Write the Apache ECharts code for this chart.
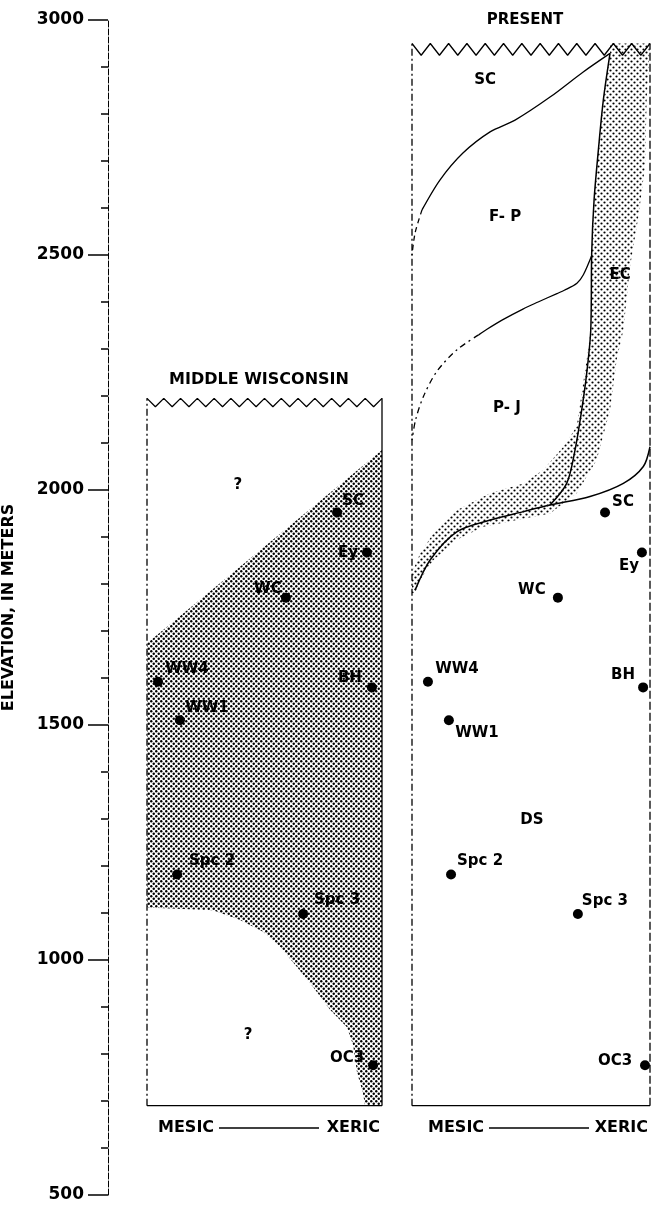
<!DOCTYPE html>
<html><head><meta charset="utf-8">
<script src="https://cdn.jsdelivr.net/npm/echarts@6/dist/echarts.min.js"></script>
<style>html,body{margin:0;padding:0;background:#fff}#c{width:658px;height:1211px}</style>
</head><body><div id="c"></div>
<script>
// ---------------- data ----------------
const sites = ['SC', 'Ey', 'WC', 'WW4', 'BH', 'WW1', 'Spc 2', 'Spc 3', 'OC3'];
const siteElevation = [1952, 1867, 1771, 1592, 1580, 1510, 1182, 1098, 776];
const midWisMoisture = [80.9, 93.6, 59.1, 4.7, 95.7, 14.0, 12.8, 66.4, 96.2];
const presentMoisture = [81.1, 96.6, 61.3, 6.7, 97.1, 15.5, 16.4, 69.7, 97.9];
const yTicks = [500, 1000, 1500, 2000, 2500, 3000];

const midWisZones = ['?', '?'];
const midWisZoneX = [38.7, 43];
const midWisZoneElev = [2011, 840];
const presentZones = ['SC', 'F- P', 'EC', 'P- J', 'DS'];
const presentZoneX = [30.7, 39.1, 87.4, 39.9, 50.4];
const presentZoneElev = [2872, 2581, 2457, 2174, 1298];

// panel extents (elevation, m)
const panelBottom = 690;
const midWisTop = 2195;
const presentTop = 2950;

// Middle Wisconsin shaded zone boundary [moisture, elevation]
const midWisShade = [[0,1674],[100,2085],[100,690],[92.8,690],[91.9,717],[89.4,760],[87.7,819],[85.1,857],
  [77.9,894],[70.6,943],[63.8,985],[56.6,1028],[49.4,1060],[39.6,1085],[28.1,1106],[2,1111],[0,1111]];
// Present ecotone band (EC) boundary
const presentEcotone = [[83.2,2950],[83.2,2929],[80.4,2830],[78.3,2723],[76.5,2617],[75.5,2504],[75.1,2340],
  [73.4,2277],[69.2,2135],[63.6,2092],[55.2,2043],[46.8,2014],[32.8,1993],[18.8,1957],[9.0,1908],[3.4,1865],
  [0.5,1830],[0,1819],[0,1781],[1.3,1780],[3.4,1809],[9.0,1851],[18.8,1894],[30,1922],[44,1936],[58,1950],
  [69.2,1993],[77.6,2064],[83.2,2170],[86,2277],[88.8,2340],[91.6,2475],[95.1,2581],[97.9,2688],[98.6,2830],[100,2950]];
// Present zone boundaries
const scFpSolid = [[83.2,2929],[71.8,2889],[58,2836],[43.3,2787],[32.8,2762],[21.4,2717],[11.8,2660],[4.2,2596]];
const scFpDashed = [[4.2,2596],[1.3,2547],[0,2500]];
const fpPjSolid = [[75.6,2500],[72,2458],[69.3,2440],[64,2425],[60.9,2418],[53,2400],[46.6,2385],[38,2362],[31.5,2342],[28,2330]];
const fpPjDashed = [[28,2330],[18.8,2298],[10.4,2252],[4.8,2199],[1.5,2149],[0,2106]];
const ecEdge = [[83.2,2929],[80.4,2830],[78.3,2723],[76.5,2617],[75.5,2504],[75.1,2340],[73.4,2248],[71.3,2170],[68.5,2085],[65,2014],[58,1968]];
const pjDsEdge = [[1.3,1787],[7.6,1851],[18.8,1911],[32.8,1936],[46.8,1954],[58,1968],[74.8,1986],[88.8,2014],[97.2,2050],[100,2092]];

// label offsets (style)
const midWisLabelOffset = [[16,-11],[-19,1],[-18,-9],[29,-13],[-22,-9],[27,-12],[35,-13],[34,-14],[-26,-7]];
const presentLabelOffset = [[18,-10],[-13,14],[-26,-8],[29,-13],[-20,-12],[28,13],[29,-13],[27,-13],[-30,-4]];

// ---------------- chart ----------------
const FONT = 'DejaVu Sans';
function dotPattern(tile, r, pts) {
  const c = document.createElement('canvas');
  c.width = tile; c.height = tile;
  const g = c.getContext('2d');
  g.fillStyle = '#000';
  pts.forEach(([x, y]) => { g.beginPath(); g.arc(x, y, r, 0, Math.PI * 2); g.fill(); });
  return c;
}
const densePattern = dotPattern(5, 1.2, [[1.25, 1.25], [3.75, 3.75]]);
const sparsePattern = dotPattern(6, 1.1, [[1.5, 1.5], [4.5, 4.5]]);

function polygonSeries(gi, pts, pattern) {
  return {
    type: 'custom', xAxisIndex: gi, yAxisIndex: gi, silent: true, z: 1, animation: false,
    data: pts,
    renderItem(params, api) {
      if (params.dataIndex !== 0) return null;
      return { type: 'polygon', shape: { points: pts.map(p => api.coord(p)) },
        style: { fill: { type: 'pattern', image: pattern, repeat: 'repeat' }, stroke: null } };
    }
  };
}
function lineSeries(gi, pts, o) {
  o = o || {};
  return {
    type: 'line', xAxisIndex: gi, yAxisIndex: gi, data: pts, symbol: 'none', silent: true, z: 3,
    smooth: o.smooth || false, animation: false,
    lineStyle: { color: '#000', width: o.width || 1.3, type: o.type || 'solid' }
  };
}
function zigzag(teeth, top, amp) {
  const d = [];
  for (let i = 0; i <= teeth * 2; i++) d.push([i * 50 / teeth, i % 2 ? top - amp : top]);
  return d;
}
const labelBase = { show: true, position: 'inside', formatter: '{b}', color: '#000', fontFamily: FONT,
  fontWeight: 'bold', fontSize: 15, align: 'center', verticalAlign: 'middle', textBorderWidth: 0, opacity: 1 };
function siteSeries(gi, xs, offsets) {
  return {
    type: 'scatter', xAxisIndex: gi, yAxisIndex: gi, symbolSize: 10, z: 5, animation: false,
    itemStyle: { color: '#000', opacity: 1 },
    data: sites.map((s, i) => ({ name: s, value: [xs[i], siteElevation[i]], label: { offset: offsets[i] } })),
    label: labelBase
  };
}
function zoneSeries(gi, names, xs, es) {
  return {
    type: 'scatter', xAxisIndex: gi, yAxisIndex: gi, symbolSize: 0, z: 5, animation: false, silent: true,
    itemStyle: { opacity: 1 },
    data: names.map((n, i) => ({ name: n, value: [xs[i], es[i]] })),
    label: labelBase
  };
}
const textStyle = (t, x, y, align, size) => ({ type: 'text', style: { text: t, x: x, y: y, align: align,
  verticalAlign: 'middle', font: 'bold ' + size + 'px "' + FONT + '"', fill: '#000' } });

const option = {
  backgroundColor: '#fff',
  animation: false,
  grid: [
    { left: 147, width: 235, top: 20, height: 1175 },
    { left: 412, width: 238, top: 20, height: 1175 },
    { left: 106, width: 10, top: 20, height: 1175 }
  ],
  xAxis: [
    { gridIndex: 0, type: 'value', min: 0, max: 100, show: false },
    { gridIndex: 1, type: 'value', min: 0, max: 100, show: false },
    { gridIndex: 2, type: 'value', min: 0, max: 1, show: false }
  ],
  yAxis: [
    { gridIndex: 0, type: 'value', min: 500, max: 3000, show: false },
    { gridIndex: 1, type: 'value', min: 500, max: 3000, show: false },
    { gridIndex: 2, type: 'value', min: 500, max: 3000, interval: 500, position: 'left',
      axisLine: { show: true, lineStyle: { color: '#000', width: 1, type: [6, 2] } },
      axisTick: { show: true, length: 20, lineStyle: { color: '#000', width: 1.5 } },
      minorTick: { show: true, splitNumber: 5, length: 7, lineStyle: { color: '#000', width: 1.5 } },
      splitLine: { show: false },
      axisLabel: { margin: 24, color: '#000', fontFamily: FONT, fontWeight: 'bold', fontSize: 17,
        formatter: v => yTicks.includes(v) ? String(v) : '' },
      name: 'ELEVATION, IN METERS', nameLocation: 'middle', nameGap: 91, nameRotate: 90,
      nameTextStyle: { color: '#000', fontFamily: FONT, fontWeight: 'bold', fontSize: 16 } }
  ],
  graphic: [
    textStyle('MIDDLE WISCONSIN', 259, 380, 'center', 16),
    textStyle('PRESENT', 525, 20, 'center', 15),
    textStyle('MESIC', 158, 1128, 'left', 16),
    textStyle('XERIC', 380, 1128, 'right', 16),
    { type: 'line', shape: { x1: 219, y1: 1128, x2: 319, y2: 1128 }, style: { stroke: '#000', lineWidth: 1.3 } },
    textStyle('MESIC', 428, 1128, 'left', 16),
    textStyle('XERIC', 648, 1128, 'right', 16),
    { type: 'line', shape: { x1: 489, y1: 1128, x2: 589, y2: 1128 }, style: { stroke: '#000', lineWidth: 1.3 } }
  ],
  series: [
    polygonSeries(0, midWisShade, densePattern),
    polygonSeries(1, presentEcotone, sparsePattern),
    // Middle Wisconsin frame
    lineSeries(0, [[0, panelBottom], [0, midWisTop]], { type: [7, 3, 2, 3] }),
    lineSeries(0, [[100, panelBottom], [100, midWisTop]]),
    lineSeries(0, [[0, panelBottom], [100, panelBottom]]),
    lineSeries(0, zigzag(14, midWisTop, 18)),
    // Present frame
    lineSeries(1, [[0, panelBottom], [0, presentTop]], { type: [7, 3, 2, 3] }),
    lineSeries(1, [[100, panelBottom], [100, presentTop]], { type: [8, 3] }),
    lineSeries(1, [[0, panelBottom], [100, panelBottom]]),
    lineSeries(1, zigzag(13, presentTop, 25)),
    // Present zone boundaries
    lineSeries(1, scFpSolid, { smooth: 0.3 }),
    lineSeries(1, scFpDashed, { smooth: 0.3, type: [5, 4] }),
    lineSeries(1, fpPjSolid, { smooth: 0.3 }),
    lineSeries(1, fpPjDashed, { smooth: 0.3, type: [6, 4, 2, 4] }),
    lineSeries(1, ecEdge, { smooth: 0.3, width: 1.5 }),
    lineSeries(1, pjDsEdge, { smooth: 0.3, width: 1.5 }),
    // sites and zone names
    siteSeries(0, midWisMoisture, midWisLabelOffset),
    siteSeries(1, presentMoisture, presentLabelOffset),
    zoneSeries(0, midWisZones, midWisZoneX, midWisZoneElev),
    zoneSeries(1, presentZones, presentZoneX, presentZoneElev)
  ]
};
const chart = echarts.init(document.getElementById('c'));
chart.setOption(option);
</script>
</body></html>
